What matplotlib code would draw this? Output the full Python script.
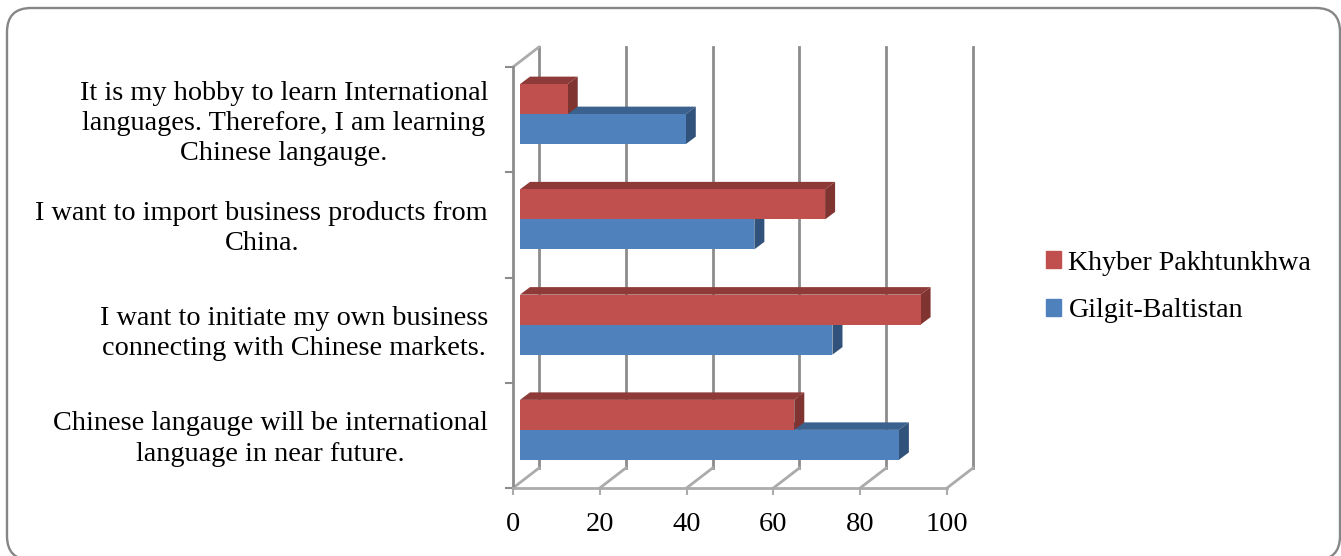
#Horizontal 3D-look bar chart drawn with plain matplotlib
import matplotlib.pyplot as plt
from matplotlib.patches import FancyBboxPatch

categories = [
    "Chinese langauge will be international\nlanguage in near future.",
    "I want to initiate my own business\nconnecting with Chinese markets.",
    "I want to import business products from\nChina.",
    "It is my hobby to learn International\nlanguages. Therefore, I am learning\nChinese langauge.",
]
gilgit = [87.3, 72, 54, 38.2]
khyber = [63.2, 92.3, 70.3, 11]
x_ticks = [0, 20, 40, 60, 80, 100]

W, H = 1341, 556
BLUE, BLUE_TOP, BLUE_SIDE = '#4F81BD', '#3B618F', '#31527A'
RED, RED_TOP, RED_SIDE = '#C0504D', '#8E3A38', '#7F3431'
GRID = '#8C8C8C'
FLOOR = '#ABABAB'

plt.rcParams['font.family'] = ['Liberation Serif', 'DejaVu Serif']

fig = plt.figure(figsize=(W / 100, H / 100), dpi=100)
ax = fig.add_axes([513 / W, (H - 488) / H, 434 / W, 421 / H])
ax.set_xlim(0, 100)
ax.set_ylim(0, 4)

#pixels to data units
ux = 100 / 434
uy = 4 / 421

#rounded frame round the whole chart
frame = FancyBboxPatch((7, H - 8 - 552), 1333, 552,
                       boxstyle='round,pad=0,rounding_size=24',
                       transform=None, fc='white', ec='#868686', lw=1.7, zorder=-5)
fig.patches.append(frame)
ax.patch.set_alpha(0)

#back wall and floor of the 3D box
wall_x, wall_y = 26 * ux, 20 * uy
for t in x_ticks:
    ax.plot([t + wall_x, t + wall_x], [wall_y, 4 + wall_y], color=GRID, lw=2,
            clip_on=False, zorder=1)
    ax.plot([t, t + wall_x], [0, wall_y], color=FLOOR, lw=2, clip_on=False, zorder=1)
ax.plot([0, wall_x], [4, 4 + wall_y], color=FLOOR, lw=2, clip_on=False, zorder=1)

#bars, blue first so that the red face covers the blue top
start = 7 * ux
shift = 5.5 * uy
bar_h = 30 * uy
dx, dy = 10 * ux, 7.5 * uy


def draw_bar(y, value, face, top, side):
    x0, x1 = start, start + value
    y0, y1 = y, y + bar_h
    ax.fill([x0, x0 + dx, x1 + dx, x1], [y1, y1 + dy, y1 + dy, y1], color=top, lw=0,
            clip_on=False, zorder=3)
    ax.fill([x1, x1 + dx, x1 + dx, x1], [y0, y0 + dy, y1 + dy, y1], color=side, lw=0,
            clip_on=False, zorder=3)
    ax.barh(y0, value, height=bar_h, left=x0, align='edge', color=face, zorder=3,
            clip_on=False)


for i in range(len(categories)):
    center = i + 0.5 + shift
    draw_bar(center - bar_h, gilgit[i], BLUE, BLUE_TOP, BLUE_SIDE)
    draw_bar(center, khyber[i], RED, RED_TOP, RED_SIDE)

#axes
for name in ['top', 'right']:
    ax.spines[name].set_visible(False)
ax.spines['left'].set_color(GRID)
ax.spines['left'].set_linewidth(2)
ax.spines['bottom'].set_color(FLOOR)
ax.spines['bottom'].set_linewidth(2)

ax.set_xticks(x_ticks)
ax.set_xticklabels([str(t) for t in x_ticks], fontsize=20.5)
ax.tick_params(axis='x', length=5, width=1.5, color=FLOOR, pad=12, labelcolor='black')

#labels sit a touch above the middle of each band
ax.set_yticks([i + 0.5 + 2 * uy for i in range(len(categories))])
ax.set_yticklabels(categories, fontsize=20.3, multialignment='center', linespacing=1.27)
ax.set_yticks(range(len(categories) + 1), minor=True)
ax.tick_params(axis='y', which='major', length=0, pad=18)
ax.tick_params(axis='y', which='minor', length=6, width=1.5, color=GRID)

#legend
handles = [plt.Rectangle((0, 0), 1, 1, color=RED), plt.Rectangle((0, 0), 1, 1, color=BLUE)]
leg = ax.legend(handles, ['Khyber Pakhtunkhwa', 'Gilgit-Baltistan'], frameon=False,
                loc='center left', bbox_to_anchor=(1046 / W, (H - 287) / H),
                bbox_transform=fig.transFigure, fontsize=20.2, handlelength=0.53,
                handleheight=0.53, handletextpad=0.27, labelspacing=0.81,
                borderpad=0, borderaxespad=0)

fig.savefig('out.png', dpi=100)
